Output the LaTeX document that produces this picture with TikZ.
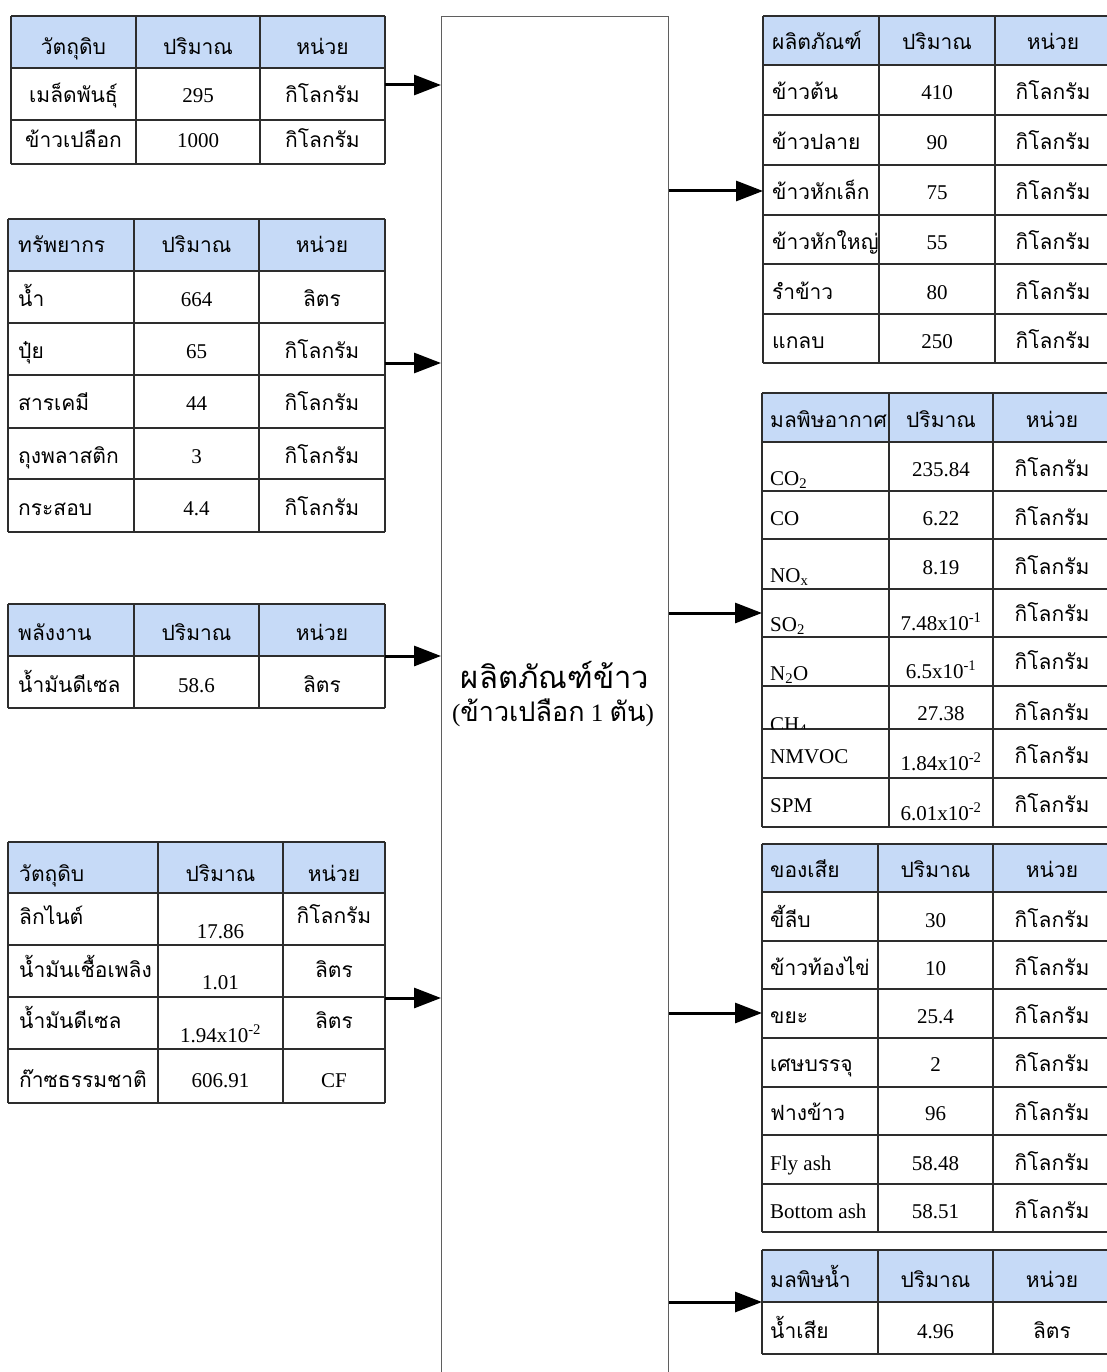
\documentclass[tikz,border=0pt]{standalone}
\usepackage{fontspec}
\setmainfont{Liberation Serif}
\newfontfamily\thai[Script=Thai]{Loma}
\usetikzlibrary{arrows.meta}
\definecolor{hdrblue}{RGB}{198,218,247}
\definecolor{rulegray}{RGB}{45,45,45}
\definecolor{boxgray}{RGB}{95,95,95}
\tikzset{
  rule/.style={draw=rulegray, line width=1.2pt},
  hdr/.style={fill=hdrblue},
  txt/.style={inner sep=0pt, font=\fontsize{21}{24}\selectfont},
  tl/.style={txt, anchor=base west},
  tc/.style={txt, anchor=base},
  firstcol/.style={tl},
  procbox/.style={draw=boxgray, line width=1.4pt, inner sep=0pt},
  flow/.style={line width=3pt, -{Triangle[length=27pt,width=20pt]}},
}
% one table row: name, then baseline and text for each of the three columns
\newcommand\cells[7]{%
  \node[firstcol] (#1-1) at (\px,#2) {#3};
  \node[tc] (#1-2) at ({(\xb+\xc)/2},#4) {#5};
  \node[tc] (#1-3) at ({(\xc+\xd)/2},#6) {#7};}
% ruled grid: x list, y list, left, right, top, bottom
\newcommand\tgrid[6]{%
  \foreach \yy in {#2} \draw[rule] (#3,\yy) -- (#4,\yy);
  \foreach \xx in {#1} \draw[rule] (\xx,#5) -- (\xx,#6);}
\begin{document}
\begin{tikzpicture}[x=1pt,y=-1pt]
\useasboundingbox[fill=white] (0,0) rectangle (1106,1372);

% ---------- central process ----------
\node[procbox, anchor=north west, minimum width=227pt, minimum height=1400pt] (box) at (441,16) {};
\node[anchor=base, inner sep=0pt, font=\thai\fontsize{31}{36}\selectfont] (title) at (555,688) {ผลิตภัณฑ์ข้าว};
\node[anchor=base, inner sep=0pt, font=\fontsize{25}{28}\selectfont] (subtitle) at (553,721)
  {({\thai\fontsize{27}{30}\selectfont ข้าวเปลือก} 1 {\thai\fontsize{27}{30}\selectfont ตัน})};

% ---------- inputs ----------
% raw material
\begin{scope}[firstcol/.style={tc}]
\def\xa{11}\def\xb{136}\def\xc{260}\def\xd{385}\def\px{73.5}
\fill[hdr] (11,16) rectangle (385,68);
\tgrid{11,136,260,385}{16,68,120,164}{11}{385}{16}{164}
\cells{ina}{55}{\thai วัตถุดิบ}{55}{\thai ปริมาณ}{55}{\thai หน่วย}
\cells{inb}{103}{\thai เมล็ดพันธุ์}{103}{295}{103}{\thai กิโลกรัม}
\cells{inc}{148}{\thai ข้าวเปลือก}{148}{1000}{148}{\thai กิโลกรัม}
\coordinate (a1) at (385,85);
\end{scope}

% resources
\def\xa{8}\def\xb{134}\def\xc{259}\def\xd{385}\def\px{18}
\fill[hdr] (8,219) rectangle (385,271);
\tgrid{8,134,259,385}{219,271,323,375,428,479,532}{8}{385}{219}{532}
\cells{rsa}{253}{\thai ทรัพยากร}{253}{\thai ปริมาณ}{253}{\thai หน่วย}
\cells{rsb}{306}{\thai น้ำ}{306}{664}{306}{\thai ลิตร}
\cells{rsc}{358}{\thai ปุ๋ย}{358}{65}{358}{\thai กิโลกรัม}
\cells{rsd}{410}{\thai สารเคมี}{410}{44}{410}{\thai กิโลกรัม}
\cells{rse}{463}{\thai ถุงพลาสติก}{463}{3}{463}{\thai กิโลกรัม}
\cells{rsf}{515}{\thai กระสอบ}{515}{4.4}{515}{\thai กิโลกรัม}
\coordinate (a2) at (385,363);

% energy
\fill[hdr] (8,604) rectangle (385,656);
\tgrid{8,134,259,385}{604,656,708}{8}{385}{604}{708}
\cells{ena}{640}{\thai พลังงาน}{640}{\thai ปริมาณ}{640}{\thai หน่วย}
\cells{enb}{692}{\thai น้ำมันดีเซล}{692}{58.6}{692}{\thai ลิตร}
\coordinate (a3) at (385,656);

% fuels
\def\xa{8}\def\xb{158}\def\xc{283}\def\xd{385}\def\px{19}
\fill[hdr] (8,842) rectangle (385,893);
\tgrid{8,158,283,385}{842,893,945,997,1049,1103}{8}{385}{842}{1103}
\cells{fua}{881}{\thai วัตถุดิบ}{881}{\thai ปริมาณ}{881}{\thai หน่วย}
\cells{fub}{924}{\thai ลิกไนต์}{938}{17.86}{923}{\thai กิโลกรัม}
\cells{fuc}{977}{\thai น้ำมันเชื้อเพลิง}{989}{1.01}{977}{\thai ลิตร}
\cells{fud}{1028}{\thai น้ำมันดีเซล}{1042}{1.94x10\textsuperscript{-2}}{1028}{\thai ลิตร}
\cells{fue}{1087}{\thai ก๊าซธรรมชาติ}{1087}{606.91}{1087}{CF}
\coordinate (a4) at (385,998);

% ---------- outputs ----------
% products
\def\xa{763}\def\xb{879}\def\xc{995}\def\xd{1111}\def\px{772}
\fill[hdr] (763,16) rectangle (1111,65);
\tgrid{763,879,995}{16,65,115,165,215,264,314,363}{763}{1111}{16}{363}
\cells{pra}{50}{\thai ผลิตภัณฑ์}{50}{\thai ปริมาณ}{50}{\thai หน่วย}
\cells{prb}{100}{\thai ข้าวต้น}{100}{410}{100}{\thai กิโลกรัม}
\cells{prc}{150}{\thai ข้าวปลาย}{150}{90}{150}{\thai กิโลกรัม}
\cells{prd}{200}{\thai ข้าวหักเล็ก}{200}{75}{200}{\thai กิโลกรัม}
\cells{pre}{249}{\thai ข้าวหักใหญ่}{249}{55}{249}{\thai กิโลกรัม}
\cells{prf}{299}{\thai รำข้าว}{299}{80}{299}{\thai กิโลกรัม}
\cells{prg}{348}{\thai แกลบ}{348}{250}{348}{\thai กิโลกรัม}
\coordinate (b1) at (763,191);

% air emissions
\def\xa{762}\def\xb{889}\def\xc{993}\def\xd{1111}\def\px{770}
\fill[hdr] (762,393) rectangle (1111,442);
\tgrid{762,889,993}{393,442,491,539,589,637,686,729,778,827}{762}{1111}{393}{827}
\cells{aia}{427}{\thai มลพิษอากาศ}{427}{\thai ปริมาณ}{427}{\thai หน่วย}
\cells{aib}{485}{CO\textsubscript{2}}{476}{235.84}{476}{\thai กิโลกรัม}
\cells{aic}{525}{CO}{525}{6.22}{525}{\thai กิโลกรัม}
\cells{aid}{582}{NO\textsubscript{x}}{574}{8.19}{574}{\thai กิโลกรัม}
\cells{aie}{631}{SO\textsubscript{2}}{630}{7.48x10\textsuperscript{-1}}{621}{\thai กิโลกรัม}
\cells{aif}{680}{N\textsubscript{2}O}{678}{6.5x10\textsuperscript{-1}}{669}{\thai กิโลกรัม}
\begin{scope}
  \clip (763,687) rectangle (888,728.4);
  \node[tl] (aig-1) at (770,731) {CH\textsubscript{4}};
\end{scope}
\node[tc] (aig-2) at (941,720) {27.38};
\node[tc] (aig-3) at (1052,720) {\thai กิโลกรัม};
\cells{aih}{763}{NMVOC}{770}{1.84x10\textsuperscript{-2}}{763}{\thai กิโลกรัม}
\cells{aii}{812}{SPM}{820}{6.01x10\textsuperscript{-2}}{812}{\thai กิโลกรัม}
\coordinate (b2) at (762,613);

% wastes
\def\xa{762}\def\xb{878}\def\xc{993}\def\xd{1111}\def\px{770}
\fill[hdr] (762,844) rectangle (1111,892);
\tgrid{762,878,993}{844,892,941,989,1038,1087,1135,1184,1232}{762}{1111}{844}{1232}
\cells{waa}{877}{\thai ของเสีย}{877}{\thai ปริมาณ}{877}{\thai หน่วย}
\cells{wab}{927}{\thai ขี้ลีบ}{927}{30}{927}{\thai กิโลกรัม}
\cells{wac}{975}{\thai ข้าวท้องไข่}{975}{10}{975}{\thai กิโลกรัม}
\cells{wad}{1023}{\thai ขยะ}{1023}{25.4}{1023}{\thai กิโลกรัม}
\cells{wae}{1071}{\thai เศษบรรจุ}{1071}{2}{1071}{\thai กิโลกรัม}
\cells{waf}{1120}{\thai ฟางข้าว}{1120}{96}{1120}{\thai กิโลกรัม}
\cells{wag}{1170}{Fly ash}{1170}{58.48}{1170}{\thai กิโลกรัม}
\cells{wah}{1218}{Bottom ash}{1218}{58.51}{1218}{\thai กิโลกรัม}
\coordinate (b3) at (762,1013);

% water emissions
\fill[hdr] (762,1250) rectangle (1111,1302);
\tgrid{762,878,993}{1250,1302,1354}{762}{1111}{1250}{1354}
\cells{wwa}{1287}{\thai มลพิษน้ำ}{1287}{\thai ปริมาณ}{1287}{\thai หน่วย}
\cells{wwb}{1338}{\thai น้ำเสีย}{1338}{4.96}{1338}{\thai ลิตร}
\coordinate (b4) at (762,1302);

% ---------- flows ----------
\foreach \c in {a1,a2,a3,a4} \draw[flow] (\c) -- (\c -| box.west);
\foreach \c in {b1,b2,b3,b4} \draw[flow] (\c -| box.east) -- (\c);
\end{tikzpicture}
\end{document}
